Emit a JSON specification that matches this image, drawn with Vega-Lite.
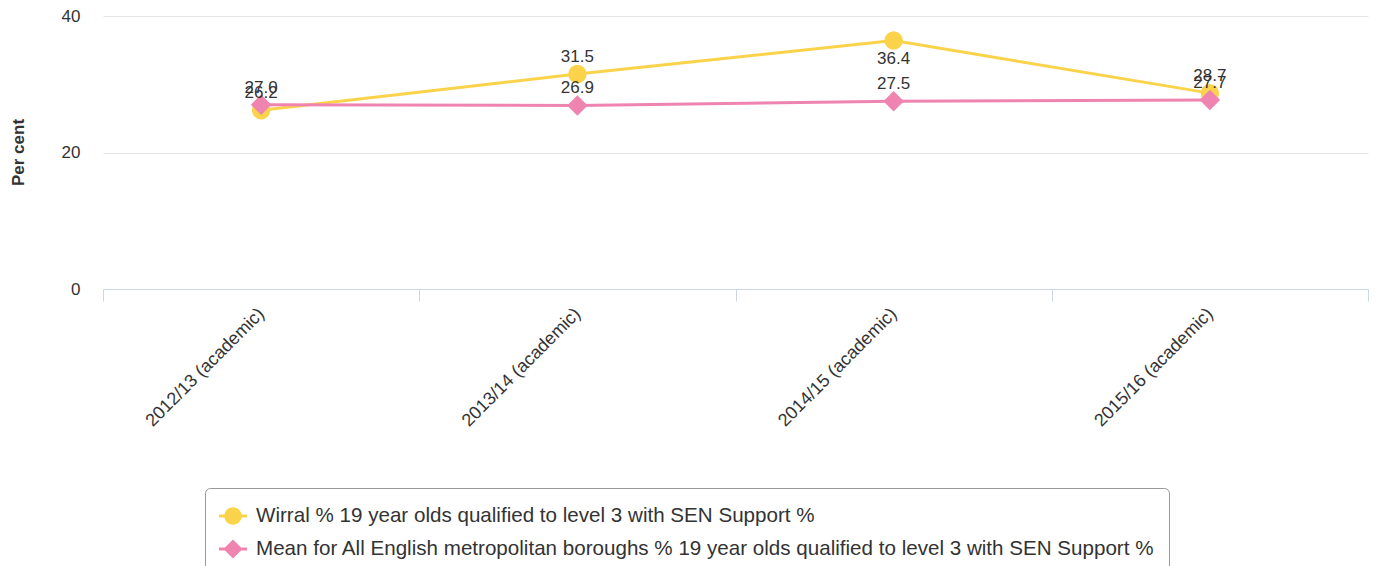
{
  "$schema": "https://vega.github.io/schema/vega-lite/v6.json",
  "width": 1265,
  "height": 273,
  "autosize": {"type": "none"},
  "padding": {"left": 103, "top": 16, "right": 12, "bottom": 277},
  "background": "white",
  "config": {
    "font": "Liberation Sans",
    "view": {"stroke": null},
    "axis": {"labelColor": "#333333", "titleColor": "#333333", "labelFont": "Liberation Sans", "titleFont": "Liberation Sans"},
    "legend": {"symbolOpacity": 1}
  },
  "data": {
    "values": [
      {"year": "2012/13 (academic)", "series": "Wirral % 19 year olds qualified to level 3 with SEN Support %", "value": 26.2},
      {"year": "2013/14 (academic)", "series": "Wirral % 19 year olds qualified to level 3 with SEN Support %", "value": 31.5},
      {"year": "2014/15 (academic)", "series": "Wirral % 19 year olds qualified to level 3 with SEN Support %", "value": 36.4},
      {"year": "2015/16 (academic)", "series": "Wirral % 19 year olds qualified to level 3 with SEN Support %", "value": 28.7},
      {"year": "2012/13 (academic)", "series": "Mean for All English metropolitan boroughs % 19 year olds qualified to level 3 with SEN Support %", "value": 27.0},
      {"year": "2013/14 (academic)", "series": "Mean for All English metropolitan boroughs % 19 year olds qualified to level 3 with SEN Support %", "value": 26.9},
      {"year": "2014/15 (academic)", "series": "Mean for All English metropolitan boroughs % 19 year olds qualified to level 3 with SEN Support %", "value": 27.5},
      {"year": "2015/16 (academic)", "series": "Mean for All English metropolitan boroughs % 19 year olds qualified to level 3 with SEN Support %", "value": 27.7}
    ]
  },
  "encoding": {
    "x": {
      "field": "year",
      "type": "nominal",
      "sort": null,
      "scale": {"type": "band", "paddingInner": 0, "paddingOuter": 0},
      "axis": {
        "title": null,
        "labelAngle": -45,
        "labelAlign": "right",
        "labelBaseline": "middle",
        "labelFontSize": 18,
        "labelPadding": 10,
        "tickBand": "extent",
        "tickSize": 12,
        "tickColor": "#ccd6eb",
        "domainColor": "#ccd6eb",
        "grid": false
      }
    },
    "y": {
      "field": "value",
      "type": "quantitative",
      "scale": {"domain": [0, 40], "nice": false},
      "axis": {
        "title": "Per cent",
        "titleFontSize": 17,
        "titleFontWeight": "bold",
        "titleAngle": -90,
        "titleX": -85,
        "titleY": 136,
        "titleAlign": "center",
        "titleBaseline": "middle",
        "values": [0, 20, 40],
        "labelFontSize": 17,
        "labelPadding": 23,
        "domain": false,
        "ticks": false,
        "grid": true,
        "gridColor": "#e6e6e6"
      }
    },
    "color": {
      "field": "series",
      "type": "nominal",
      "sort": null,
      "scale": {
        "domain": ["Wirral % 19 year olds qualified to level 3 with SEN Support %", "Mean for All English metropolitan boroughs % 19 year olds qualified to level 3 with SEN Support %"],
        "range": ["#fbd34b", "#ef84b0"]
      },
      "legend": {
        "title": null,
        "orient": "none",
        "legendX": 102,
        "legendY": 472,
        "direction": "vertical",
        "padding": 14,
        "strokeColor": "#999999",
        "fillColor": "white",
        "cornerRadius": 5,
        "symbolSize": 784,
        "symbolStrokeWidth": 0,
        "labelFontSize": 20.6,
        "labelColor": "#333333",
        "labelLimit": 2000,
        "labelOffset": 9,
        "rowPadding": 8,
        "symbolOpacity": 1
      }
    }
  },
  "layer": [
    {
      "mark": {"type": "line", "strokeWidth": 3}
    },
    {
      "transform": [{"filter": "indexof(datum.series, 'Wirral') === 0"}],
      "mark": {"type": "point", "shape": "circle", "filled": true, "opacity": 1, "size": 340}
    },
    {
      "transform": [{"filter": "indexof(datum.series, 'Mean') === 0"}],
      "mark": {"type": "point", "shape": "diamond", "filled": true, "opacity": 1, "size": 420}
    },
    {
      "mark": {"type": "point", "filled": true, "opacity": 0, "size": 10},
      "encoding": {
        "shape": {
          "field": "series",
          "type": "nominal",
          "sort": null,
          "scale": {
            "domain": ["Wirral % 19 year olds qualified to level 3 with SEN Support %", "Mean for All English metropolitan boroughs % 19 year olds qualified to level 3 with SEN Support %"],
            "range": [
              "M-1,-0.107L1,-0.107L1,0.107L-1,0.107Z M-0.62,0A0.62,0.62 0 1,1 0.62,0A0.62,0.62 0 1,1 -0.62,0Z",
              "M-1,-0.107L1,-0.107L1,0.107L-1,0.107Z M-0.68,0L0,-0.68L0.68,0L0,0.68Z"
            ]
          },
          "legend": {
            "title": null,
            "orient": "none",
            "legendX": 102,
            "legendY": 472,
            "direction": "vertical",
            "padding": 14,
            "strokeColor": "#999999",
            "fillColor": "white",
            "cornerRadius": 5,
            "symbolSize": 784,
            "symbolStrokeWidth": 0,
            "labelFontSize": 20.6,
            "labelColor": "#333333",
            "labelLimit": 2000,
            "labelOffset": 9,
            "rowPadding": 8,
            "symbolOpacity": 1
          }
        }
      }
    },
    {
      "transform": [{"filter": "datum.value < 35"}],
      "mark": {"type": "text", "dy": -17, "fontSize": 17, "font": "Liberation Sans"},
      "encoding": {"text": {"field": "value", "type": "quantitative", "format": ".1f"}, "color": {"value": "#333333"}}
    },
    {
      "transform": [{"filter": "datum.value >= 35"}],
      "mark": {"type": "text", "dy": 18, "fontSize": 17, "font": "Liberation Sans"},
      "encoding": {"text": {"field": "value", "type": "quantitative", "format": ".1f"}, "color": {"value": "#333333"}}
    }
  ]
}
